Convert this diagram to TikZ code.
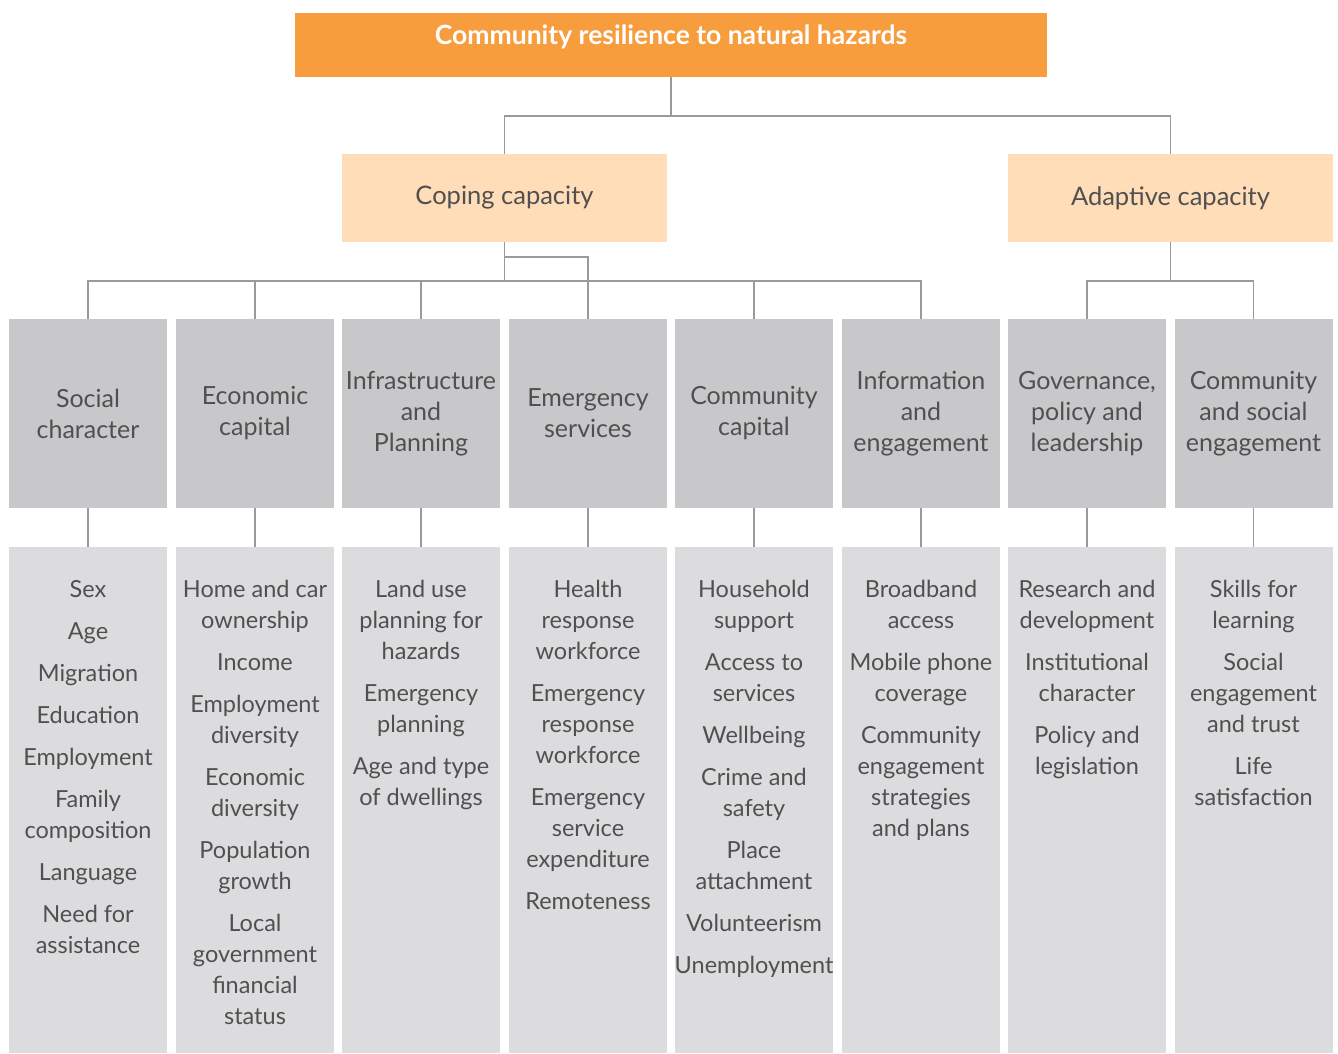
\documentclass[tikz,border=0pt]{standalone}
\usepackage{fontspec}
\setmainfont{Lato}
\definecolor{orangebox}{HTML}{F89D3E}
\definecolor{peachbox}{HTML}{FFDDB8}
\definecolor{greybox}{HTML}{C8C8CA}
\definecolor{lightbox}{HTML}{DCDCDE}
\definecolor{linegrey}{HTML}{9A9A9A}
\definecolor{txtgrey}{HTML}{505050}
\newcommand\firstline{\rule{0pt}{22pt}}
\tikzset{
  topbox/.style={fill=orangebox, minimum width=752pt, minimum height=64pt, inner sep=0pt},
  capbox/.style={fill=peachbox, minimum width=325pt, minimum height=88pt, inner sep=0pt,
    text=txtgrey, font=\fontsize{25.5}{31}\selectfont},
  catbox/.style={fill=greybox, minimum width=158pt, minimum height=189pt, inner sep=0pt,
    align=center, text=txtgrey, font=\fontsize{25}{31}\selectfont},
  itembox/.style={fill=lightbox, minimum width=158pt, minimum height=506pt, inner sep=0pt},
  itemtext/.style={anchor=north, inner sep=0pt, align=center, text=txtgrey,
    font=\fontsize{23.5}{31}\selectfont},
  conn/.style={draw=linegrey, line width=1.3pt}
}
\begin{document}
\begin{tikzpicture}[x=1pt,y=-1pt]
\useasboundingbox (0,0) rectangle (1338,1053);
\fill[white] (0,0) rectangle (1338,1053);

\node[topbox] (top) at (671,45) {};
\node[anchor=base, text=white, font=\fontsize{26.5}{30}\selectfont\bfseries, inner sep=0pt] (toptext) at (671,44) {Community resilience to natural hazards};

\node[capbox] (coping) at (504.5,198) {Coping capacity};
\node[capbox] (adaptive) at (1170.5,198) {Adaptive capacity};

\node[catbox] (c1) at (88,413.5) {Social\\character};
\node[catbox] (c2) at (255,413.5) {Economic\\capital};
\node[catbox] (c3) at (421,413.5) {Infrastructure\\and\\Planning};
\node[catbox] (c4) at (588,413.5) {Emergency\\services};
\node[catbox] (c5) at (754,413.5) {Community\\capital};
\node[catbox] (c6) at (921,413.5) {Information\\and\\engagement};
\node[catbox] (c7) at (1087,413.5) {Governance,\\policy and\\leadership};
\node[catbox] (c8) at (1253.5,413.5) {Community\\and social\\engagement};

\foreach \i/\x in {1/88,2/255,3/421,4/588,5/754,6/921,7/1087,8/1253.5}{
  \node[itembox] (l\i) at (\x,800) {};
}

\node[itemtext] (t1) at ([yshift=-28pt]l1.north) {\firstline Sex\\[11pt]Age\\[11pt]Migration\\[11pt]Education\\[11pt]Employment\\[11pt]Family\\composition\\[11pt]Language\\[11pt]Need for\\assistance};
\node[itemtext] (t2) at ([yshift=-28pt]l2.north) {\firstline Home and car\\ownership\\[11pt]Income\\[11pt]Employment\\diversity\\[11pt]Economic\\diversity\\[11pt]Population\\growth\\[11pt]Local\\government\\financial\\status};
\node[itemtext] (t3) at ([yshift=-28pt]l3.north) {\firstline Land use\\planning for\\hazards\\[11pt]Emergency\\planning\\[11pt]Age and type\\of dwellings};
\node[itemtext] (t4) at ([yshift=-28pt]l4.north) {\firstline Health\\response\\workforce\\[11pt]Emergency\\response\\workforce\\[11pt]Emergency\\service\\expenditure\\[11pt]Remoteness};
\node[itemtext] (t5) at ([yshift=-28pt]l5.north) {\firstline Household\\support\\[11pt]Access to\\services\\[11pt]Wellbeing\\[11pt]Crime and\\safety\\[11pt]Place\\attachment\\[11pt]Volunteerism\\[11pt]Unemployment};
\node[itemtext] (t6) at ([yshift=-28pt]l6.north) {\firstline Broadband\\access\\[11pt]Mobile phone\\coverage\\[11pt]Community\\engagement\\strategies\\and plans};
\node[itemtext] (t7) at ([yshift=-28pt]l7.north) {\firstline Research and\\development\\[11pt]Institutional\\character\\[11pt]Policy and\\legislation};
\node[itemtext] (t8) at ([yshift=-28pt]l8.north) {\firstline Skills for\\learning\\[11pt]Social\\engagement\\and trust\\[11pt]Life\\satisfaction};

% connectors
\coordinate (j1) at (671,116);
\draw[conn] (top.south) -- (j1);
\draw[conn] (coping.north) |- (j1) -| (adaptive.north);

\coordinate (h1) at (504.5,281);
\coordinate (s1) at (504.5,257);
\draw[conn] (coping.south) -- (h1);
\draw[conn] (c1.north) |- (h1) -| (c6.north);
\draw[conn] (c2.north) -- (c2.north |- h1);
\draw[conn] (c3.north) -- (c3.north |- h1);
\draw[conn] (c5.north) -- (c5.north |- h1);
\draw[conn] (s1) -| (c4.north);

\coordinate (h2) at (1170.5,281);
\draw[conn] (adaptive.south) -- (h2);
\draw[conn] (c7.north) |- (h2) -| (c8.north);

\foreach \i in {1,...,8}{
  \draw[conn] (c\i.south) -- (l\i.north);
}
\end{tikzpicture}
\end{document}
